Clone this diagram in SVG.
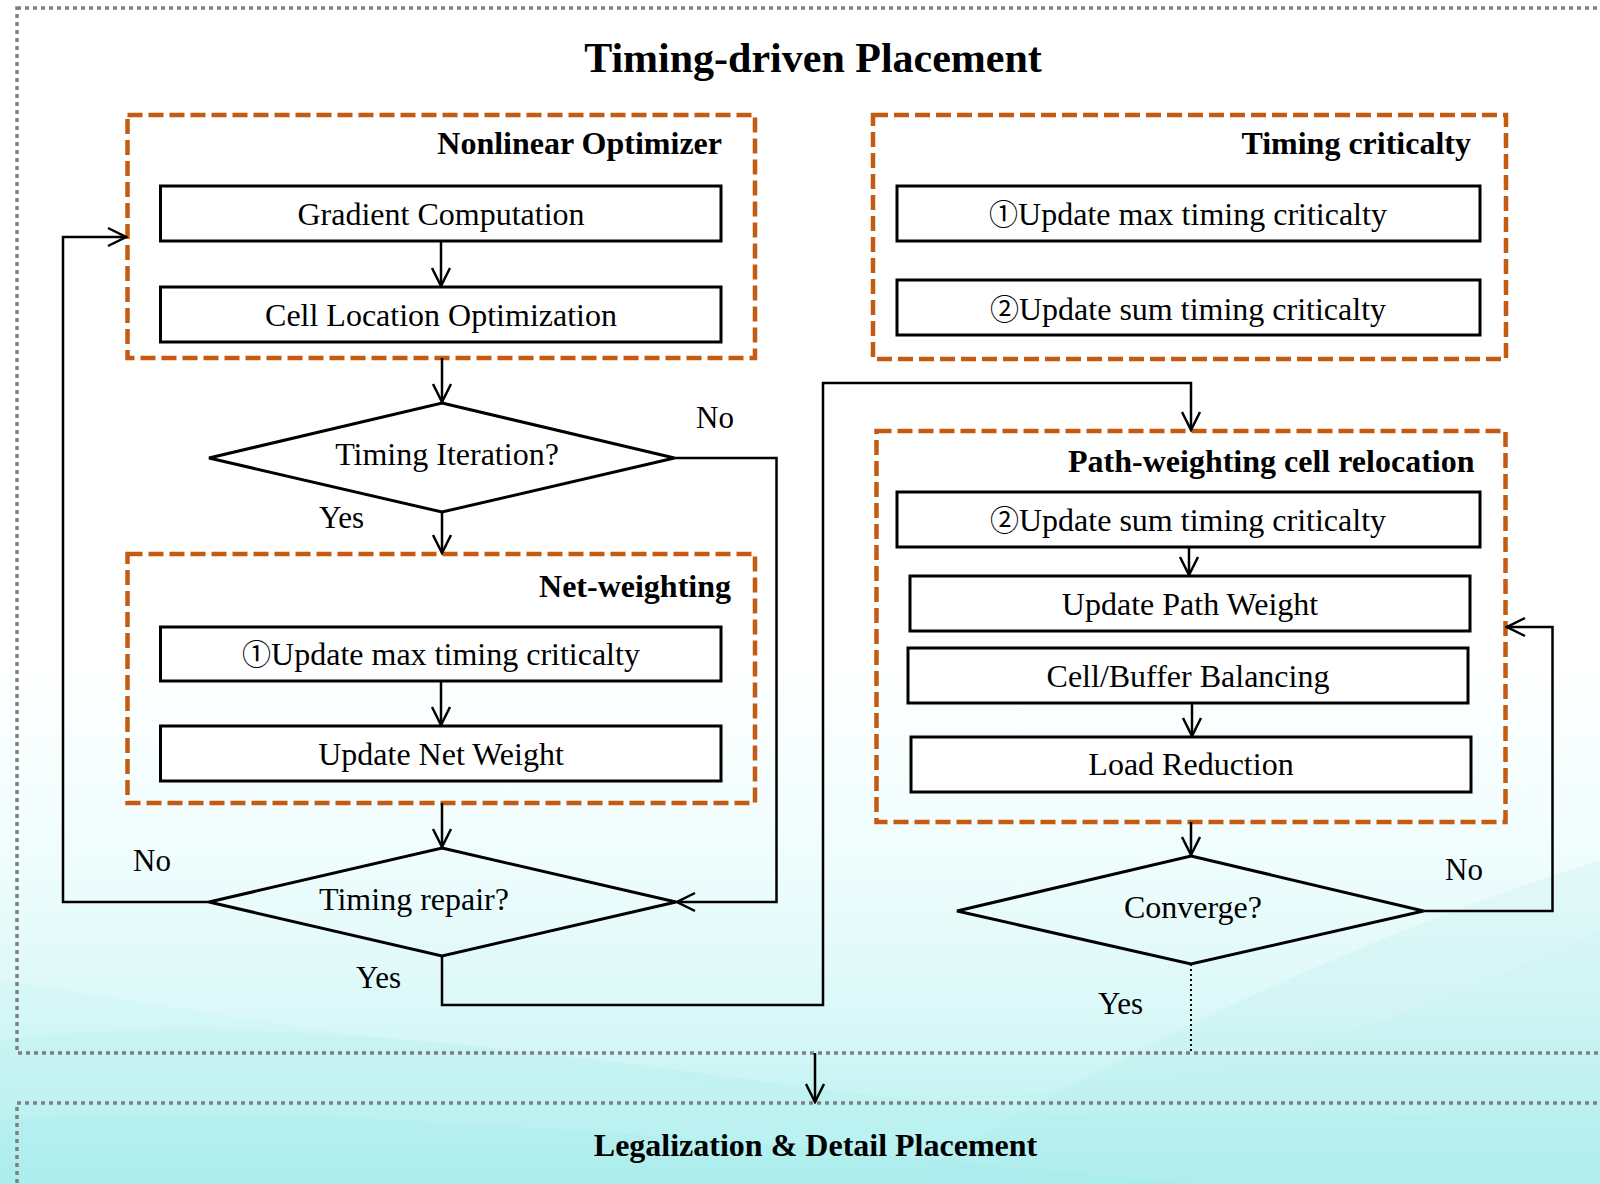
<svg xmlns="http://www.w3.org/2000/svg" width="1600" height="1184" viewBox="0 0 1600 1184">
  <style>
    .frame { fill: none; stroke: #808080; stroke-width: 3.5; stroke-dasharray: 4 4; }
    .group { fill: none; stroke: #C55A11; stroke-width: 4.5; stroke-dasharray: 15 6; }
    .box { fill: #ffffff; stroke: #000000; stroke-width: 3; }
    .dia { fill: none; stroke: #000000; stroke-width: 3; stroke-linejoin: miter; }
    .wire { fill: none; stroke: #000000; stroke-width: 2.5; }
    .arr { marker-end: url(#vhead); }
    .dots { fill: none; stroke: #000000; stroke-width: 2; stroke-dasharray: 2 3; }
    text { font-family: "Liberation Serif", "Times New Roman", serif; fill: #000000; }
    .t { font-size: 32px; text-anchor: middle; }
    .h { font-size: 32px; font-weight: bold; text-anchor: end; }
    .lbl { font-size: 31px; }
    .title { font-size: 42px; font-weight: bold; text-anchor: middle; }
    .num { font-family: "Noto Sans CJK JP", "DejaVu Sans", sans-serif; font-size: 29px; font-weight: normal; }
  </style>
  <defs>
    <linearGradient id="bg" x1="0" y1="0" x2="0" y2="1">
      <stop offset="0" stop-color="#ffffff"/>
      <stop offset="0.55" stop-color="#ffffff"/>
      <stop offset="0.72" stop-color="#f0fdfd"/>
      <stop offset="0.85" stop-color="#dcf8f8"/>
      <stop offset="1" stop-color="#b4f0f0"/>
    </linearGradient>
    <marker id="vhead" viewBox="-20 -11 22 22" markerWidth="22" markerHeight="22" refX="0" refY="0" orient="auto" markerUnits="userSpaceOnUse">
      <path d="M-18,-9 L0,0 L-18,9" fill="none" stroke="#000000" stroke-width="2.5"/>
    </marker>
  </defs>

  <!-- backdrop -->
  <rect x="0" y="0" width="1600" height="1184" fill="url(#bg)"/>
  <g id="backdrop-waves" opacity="0.4">
    <path d="M0,1040 C300,1000 700,1080 1000,1110 C1250,1135 1450,1120 1600,1090 L1600,1184 L0,1184 Z" fill="#a6ecec" opacity="0.5"/>
    <path d="M0,980 C250,1020 500,1060 800,1090 C1100,1120 1350,1050 1600,930 L1600,1184 L0,1184 Z" fill="#b8f2f2" opacity="0.4"/>
    <path d="M900,1184 C1100,1060 1350,940 1600,860 L1600,1184 Z" fill="#9ee2e6" opacity="0.35"/>
    <path d="M0,1120 C400,1100 800,1150 1200,1184 L0,1184 Z" fill="#96e6e6" opacity="0.5"/>
  </g>

  <!-- outer frames -->
  <rect class="frame" x="17" y="8" width="1600" height="1045"/>
  <rect class="frame" x="17" y="1103" width="1600" height="120"/>

  <text class="title" x="813" y="72">Timing-driven Placement</text>

  <!-- Nonlinear Optimizer -->
  <g id="nonlinear-optimizer">
    <rect class="group" x="127.5" y="115" width="627.5" height="243"/>
    <text class="h" x="722" y="154">Nonlinear Optimizer</text>
  </g>
  <g id="gradient-computation">
    <rect class="box" x="160.5" y="186" width="560.5" height="55"/>
    <text class="t" x="441" y="225">Gradient Computation</text>
  </g>
  <g id="cell-location-optimization">
    <rect class="box" x="160.5" y="287" width="560.5" height="55"/>
    <text class="t" x="441" y="326">Cell Location Optimization</text>
  </g>

  <!-- Timing criticalty -->
  <g id="timing-criticalty">
    <rect class="group" x="873" y="115" width="633" height="244"/>
    <text class="h" x="1471" y="154">Timing criticalty</text>
  </g>
  <g id="tc-update-max">
    <rect class="box" x="897" y="186" width="583" height="55"/>
    <text class="t" x="1188" y="225"><tspan class="num">①</tspan>Update max timing criticalty</text>
  </g>
  <g id="tc-update-sum">
    <rect class="box" x="897" y="280" width="583" height="55"/>
    <text class="t" x="1188" y="320"><tspan class="num">②</tspan>Update sum timing criticalty</text>
  </g>

  <!-- Timing Iteration decision -->
  <g id="timing-iteration">
    <polygon class="dia" points="442,403 674.5,458 442,512 209,458"/>
    <text class="t" x="447" y="465">Timing Iteration?</text>
  </g>

  <!-- Net-weighting -->
  <g id="net-weighting">
    <rect class="group" x="127.5" y="554" width="627.5" height="249"/>
    <text class="h" x="731" y="597">Net-weighting</text>
  </g>
  <g id="nw-update-max">
    <rect class="box" x="160.5" y="627" width="560.5" height="54"/>
    <text class="t" x="441" y="665"><tspan class="num">①</tspan>Update max timing criticalty</text>
  </g>
  <g id="update-net-weight">
    <rect class="box" x="160.5" y="726" width="560.5" height="55"/>
    <text class="t" x="441" y="765">Update Net Weight</text>
  </g>

  <!-- Timing repair decision -->
  <g id="timing-repair">
    <polygon class="dia" points="442,848 676,902 442,956 209,902"/>
    <text class="t" x="414" y="910">Timing repair?</text>
  </g>

  <!-- Path-weighting cell relocation -->
  <g id="path-weighting">
    <rect class="group" x="876.5" y="431" width="629" height="391"/>
    <text class="h" x="1474.5" y="472">Path-weighting cell relocation</text>
  </g>
  <g id="pw-update-sum">
    <rect class="box" x="897" y="492" width="583" height="55"/>
    <text class="t" x="1188" y="531"><tspan class="num">②</tspan>Update sum timing criticalty</text>
  </g>
  <g id="update-path-weight">
    <rect class="box" x="910" y="576" width="560" height="55"/>
    <text class="t" x="1190" y="615">Update Path Weight</text>
  </g>
  <g id="cell-buffer-balancing">
    <rect class="box" x="908" y="648" width="560" height="55"/>
    <text class="t" x="1188" y="687">Cell/Buffer Balancing</text>
  </g>
  <g id="load-reduction">
    <rect class="box" x="911" y="737" width="560" height="55"/>
    <text class="t" x="1191" y="775">Load Reduction</text>
  </g>

  <!-- Converge decision -->
  <g id="converge">
    <polygon class="dia" points="1191,856 1423.5,911 1191,964 957,911"/>
    <text class="t" x="1193" y="918">Converge?</text>
  </g>

  <!-- Legalization & Detail Placement -->
  <g id="legalization">
    <text class="title" style="font-size:32px" x="815.5" y="1156">Legalization &amp; Detail Placement</text>
  </g>

  <!-- connectors -->
  <g id="connectors">
    <line class="wire arr" x1="441" y1="241" x2="441" y2="286"/>
    <line class="wire arr" x1="442" y1="358" x2="442" y2="402"/>
    <line class="wire arr" x1="442" y1="512" x2="442" y2="553"/>
    <line class="wire arr" x1="441" y1="681" x2="441" y2="725"/>
    <line class="wire arr" x1="442" y1="803" x2="442" y2="847"/>
    <polyline class="wire arr" points="674.5,458 776.5,458 776.5,902 677,902"/>
    <polyline class="wire arr" points="209,902 63,902 63,237 126,237"/>
    <polyline class="wire arr" points="442,956 442,1005 823,1005 823,383 1191,383 1191,430"/>
    <line class="wire arr" x1="1189" y1="547" x2="1189" y2="575"/>
    <line class="wire arr" x1="1192" y1="703" x2="1192" y2="736"/>
    <line class="wire arr" x1="1191" y1="822" x2="1191" y2="855"/>
    <polyline class="wire arr" points="1423.5,911 1552.5,911 1552.5,627 1507,627"/>
    <line class="dots" x1="1191" y1="964" x2="1191" y2="1051"/>
    <line class="wire arr" x1="815" y1="1053" x2="815" y2="1102"/>
  </g>

  <!-- branch labels -->
  <g id="labels">
    <text class="lbl" x="696" y="428">No</text>
    <text class="lbl" x="319" y="528">Yes</text>
    <text class="lbl" x="133" y="871">No</text>
    <text class="lbl" x="356" y="988">Yes</text>
    <text class="lbl" x="1445" y="880">No</text>
    <text class="lbl" x="1098" y="1014">Yes</text>
  </g>
</svg>
